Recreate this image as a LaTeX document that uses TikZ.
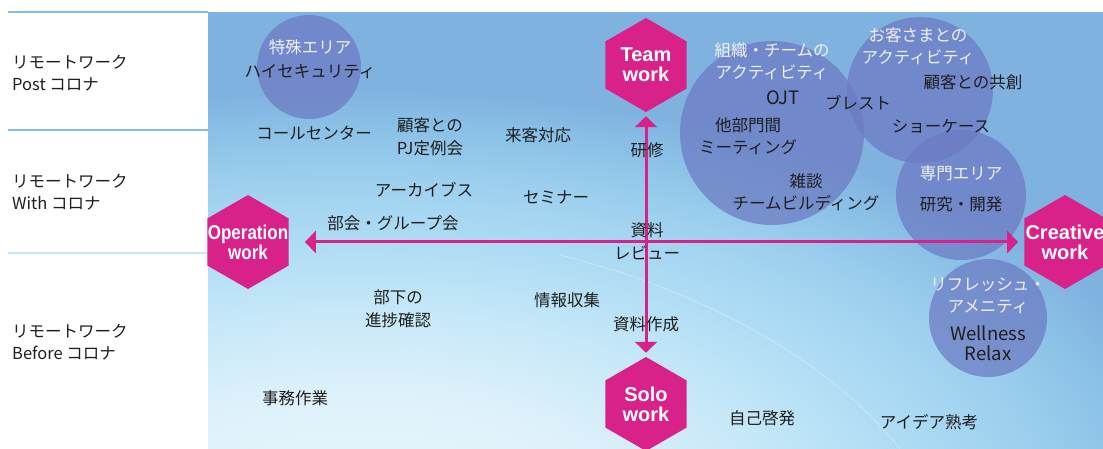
\documentclass[tikz,border=0pt]{standalone}
\usepackage{fontspec}
\newfontfamily\jp{Noto Sans CJK JP}
\newfontfamily\hexfont{Liberation Sans}[BoldFont={Liberation Sans Bold}]
\usetikzlibrary{shapes.geometric,arrows.meta,shadings}
\definecolor{mag}{HTML}{D8228A}
\definecolor{bubble}{RGB}{108,122,194}
\definecolor{txt}{HTML}{1E1E1E}
\definecolor{rule}{HTML}{84BEEA}
\definecolor{rulelight}{HTML}{C6E6F6}
\definecolor{bgA}{HTML}{EAF6FC}
\definecolor{bgB}{HTML}{DEF1FB}
\definecolor{bgC}{HTML}{C4E7F8}
\definecolor{bgD}{HTML}{AEDCF4}
\definecolor{bgE}{HTML}{9CCFEE}
\definecolor{bgF}{HTML}{8AC0E6}
\definecolor{bgG}{HTML}{80B2E0}
\pgfdeclareradialshading{bgrad}{\pgfpoint{0bp}{0bp}}{%
  color(0bp)=(bgA); color(7.5bp)=(bgB); color(12.5bp)=(bgC); color(16.25bp)=(bgD);
  color(20bp)=(bgE); color(23bp)=(bgF); color(25bp)=(bgG); color(50bp)=(bgG)}
\tikzset{
  lbl/.style={font=\jp\fontsize{16.5}{22.5}\selectfont, text=txt, align=center, inner sep=0pt},
  lbll/.style={lbl, align=left, anchor=west},
  head/.style={lbl, text=white!94!blue},
  latin/.style={lbl, font=\jp\fontsize{18.5}{21}\selectfont},
  bub/.style={fill=bubble, fill opacity=0.72},
  hexbox/.style={regular polygon, regular polygon sides=6, shape border rotate=30,
    minimum size=94pt, inner sep=0pt, fill=mag, draw=none},
  hextext/.style={font=\hexfont\bfseries\fontsize{20}{20}\selectfont, text=white, align=center, inner sep=0pt},
  axis/.style={draw=mag, line width=3pt, {Triangle[width=22pt,length=11pt]}-{Triangle[width=22pt,length=11pt]}},
}
\begin{document}
\begin{tikzpicture}[x=1pt,y=-1pt]
\useasboundingbox (0,0) rectangle (1103,449);
% background panel
\begin{scope}
\clip (208,12) rectangle (1103,449);
\fill[bgG] (208,12) rectangle (1103,449);
\shade[shading=bgrad] (360,520) ellipse (860pt and 430pt);
\draw[white, opacity=0.35, line width=0.6pt] (560,255) .. controls (700,290) and (830,360) .. (900,449);
\end{scope}
% left rules
\draw[rule, line width=1.2pt] (8,12) -- (208,12);
\draw[rule, line width=1.2pt] (8,130) -- (208,130);
\draw[rulelight, line width=1.5pt] (8,253) -- (208,253);
% left labels
\node[lbll] (post) at (12,73) {リモートワーク\\Post コロナ};
\node[lbll] (with) at (12,192) {リモートワーク\\With コロナ};
\node[lbll] (before) at (12,342) {リモートワーク\\Before コロナ};
% bubbles
\fill[bub] (309,67) circle (52pt);
\fill[bub] (772,133) circle (92pt);
\fill[bub] (920,90) circle (73pt);
\fill[bub] (961,195) circle (65pt);
\fill[bub] (988,318) circle (59pt);
% hexagons
\node[hexbox] (team) at (646,65) {};
\node[hexbox] (op) at (248,242) {};
\node[hexbox] (cre) at (1065,242) {};
\node[hexbox] (solo) at (646,404) {};
% axes
\draw[axis, shorten <=4pt, shorten >=4pt] (team) -- (solo);
\draw[axis, shorten <=16pt, shorten >=6pt] (op) -- (cre);
% hexagon texts
\node[hextext] (teamt) at (team) {Team\\work};
\node[hextext] (opt) at (op) {\scalebox{0.85}[1]{Operation}\\\scalebox{0.85}[1]{work}};
\node[hextext] (cret) at (cre) {Creative\\work};
\node[hextext] (solot) at (solo) {Solo\\work};
% bubble texts
\node[head] (tokushu) at (310,47) {特殊エリア};
\node[lbl] (hisec) at (310,72) {ハイセキュリティ};
\node[head] (soshiki) at (772,61) {組織・チームの\\アクティビティ};
\node[latin] (ojt) at (783,98) {OJT};
\node[lbl] (brest) at (858,103) {ブレスト};
\node[lbl] (tabumon) at (748,136) {他部門間\\ミーティング};
\node[lbl] (zatsudan) at (806,192) {雑談\\チームビルディング};
\node[head] (okyaku) at (918,46) {お客さまとの\\アクティビティ};
\node[lbl] (kyoso) at (973,82) {顧客との共創};
\node[lbl] (show) at (941,126) {ショーケース};
\node[head] (senmon) at (961,173) {専門エリア};
\node[lbl] (kenkyu) at (961,204) {研究・開発};
\node[head] (refresh) at (988,296) {リフレッシュ・\\アメニティ};
\node[latin] (well) at (988,333) {Wellness};
\node[latin] (relax) at (988,353) {Relax};
% other texts
\node[lbl] (call) at (314,133) {コールセンター};
\node[lbl] (pj) at (430,137) {顧客との\\PJ定例会};
\node[lbl] (raikyaku) at (538,135) {来客対応};
\node[lbl] (kenshu) at (647,150) {研修};
\node[lbl] (archive) at (424,190) {アーカイブス};
\node[lbl] (seminar) at (556,197) {セミナー};
\node[lbl] (bukai) at (393,223) {部会・グループ会};
\node[lbl] (review) at (647,241) {資料\\レビュー};
\node[lbl] (buka) at (398,309) {部下の\\進捗確認};
\node[lbl] (joho) at (567,300) {情報収集};
\node[lbl] (sakusei) at (646,324) {資料作成};
\node[lbl] (jimu) at (295,398) {事務作業};
\node[lbl] (jiko) at (762,418) {自己啓発};
\node[lbl] (idea) at (929,422) {アイデア熟考};
\end{tikzpicture}
\end{document}
